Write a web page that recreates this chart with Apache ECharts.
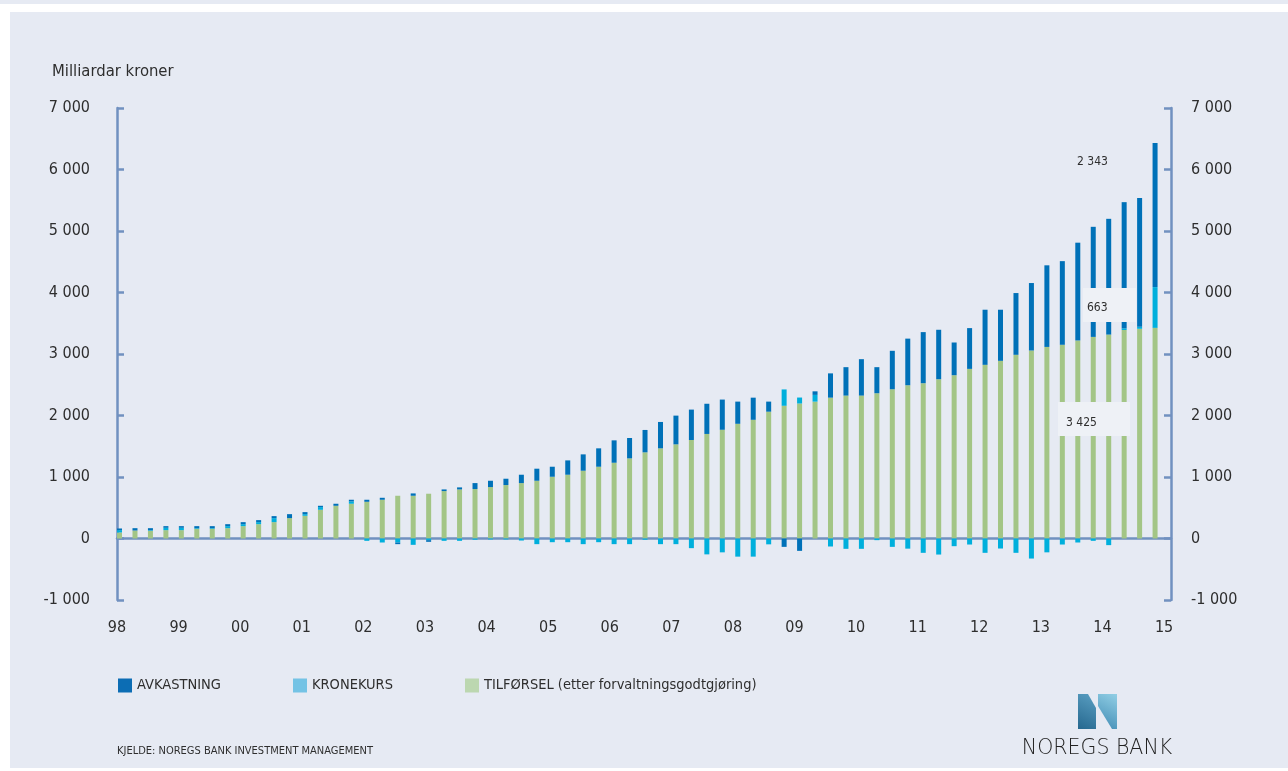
<!DOCTYPE html>
<html>
<head>
<meta charset="utf-8">
<script src="https://cdn.jsdelivr.net/npm/echarts@6/dist/echarts.min.js"></script>
<style>
html,body{margin:0;padding:0;background:#ffffff;}
#chart{width:1288px;height:771px;}
</style>
</head>
<body>
<div id="chart"></div>
<script>
// Quarter categories 1998K1 .. 2014K4
const quarters = [];
for (let y = 1998; y <= 2014; y++) { for (let q = 1; q <= 4; q++) { quarters.push(y + 'K' + q); } }

const yearLabels = ['98','99','00','01','02','03','04','05','06','07','08','09','10','11','12','13','14','15'];

const tilforsel = [98,130,125,136,136,157,157,168,201,233,
  266,331,369,467,532,565,597,630,695,695,
  728,771,798,804,836,869,901,939,1004,1037,
  1102,1167,1232,1303,1401,1466,1531,1602,1700,1768,
  1865,1930,2062,2158,2195,2225,2290,2324,2324,2362,
  2427,2492,2525,2590,2655,2758,2824,2889,2987,3057,
  3115,3150,3220,3278,3316,3390,3410,3425];

const kronekurs = [38,0,10,38,38,11,11,33,32,33,
  65,0,27,43,0,38,-38,-65,-65,-103,
  -27,-38,-38,-20,-15,-15,-33,-92,-60,-60,
  -92,-60,-92,-92,-20,-92,-92,-157,-258,-225,
  -295,-295,-95,266,97,110,-130,-168,-168,-27,
  -136,-165,-233,-261,-125,-98,-233,-163,-233,-326,
  -225,-98,-65,-38,-108,27,33,663];

const avkastning = [27,38,33,27,27,33,33,32,33,33,
  33,65,33,22,33,27,33,32,-27,38,
  -27,27,33,97,103,103,136,196,163,233,
  266,299,364,331,364,429,467,494,491,491,
  361,360,164,-136,-201,58,395,462,592,424,
  625,758,831,804,532,663,896,831,1004,1097,
  1327,1360,1590,1790,1882,2052,2092,2343];

const yTicks = {min: -1000, max: 7000, interval: 1000};
const annotations = ['2 343', '663', '3 425'];

const FONT = '"DejaVu Sans Condensed", "DejaVu Sans", sans-serif';
const TXT = '#2e2e2e';
const AXIS = '#7191c0';
const C_AVK = '#0071b8';
const C_KRO = '#00afdc';
const C_TIL = '#a3c586';

function fmt(v) {
  const s = Math.abs(v).toString().replace(/\B(?=(\d{3})+(?!\d))/g, ' ');
  return (v < 0 ? '-' : '') + s;
}

const chart = echarts.init(document.getElementById('chart'), null, {renderer: 'canvas'});

const yAxisBase = {
  type: 'value', gridIndex: 0,
  min: yTicks.min, max: yTicks.max, interval: yTicks.interval,
  axisLine: {show: true, onZero: false, lineStyle: {color: AXIS, width: 2.5}},
  axisTick: {show: true, inside: true, length: 7, lineStyle: {color: AXIS, width: 2.5}},
  splitLine: {show: false},
  axisLabel: {formatter: fmt, color: TXT, fontFamily: FONT, fontSize: 16}
};

const legendText = {color: TXT, fontFamily: FONT, fontSize: 14.5};

const option = {
  backgroundColor: '#ffffff',
  animation: false,
  grid: [
    {left: 117, right: 117, top: 108, bottom: 171, containLabel: false},
    {left: 111.8, right: 125.2, top: 108, bottom: 171, containLabel: false}
  ],
  xAxis: [
    { // year labels
      type: 'value', gridIndex: 0, position: 'bottom',
      min: 0, max: 17.113, interval: 1,
      axisLine: {show: false, onZero: false},
      axisTick: {show: false},
      splitLine: {show: false},
      axisLabel: {
        color: TXT, fontFamily: FONT, fontSize: 16, margin: 20,
        showMaxLabel: false,
        formatter: v => yearLabels[Math.round(v)] || ''
      }
    },
    { // zero line
      type: 'value', gridIndex: 0, position: 'top',
      min: 0, max: 1,
      axisLine: {show: true, onZero: true, onZeroAxisIndex: 0, lineStyle: {color: AXIS, width: 2.5}},
      axisTick: {show: false},
      axisLabel: {show: false},
      splitLine: {show: false}
    },
    { // bars
      type: 'category', gridIndex: 1, data: quarters, boundaryGap: true, show: false
    }
  ],
  yAxis: [
    Object.assign({}, yAxisBase, {position: 'left', axisLabel: Object.assign({}, yAxisBase.axisLabel, {margin: 27})}),
    Object.assign({}, yAxisBase, {position: 'right', axisLabel: Object.assign({}, yAxisBase.axisLabel, {margin: 20, align: 'left'})}),
    {type: 'value', gridIndex: 1, min: yTicks.min, max: yTicks.max, show: false}
  ],
  legend: [
    {left: 113, top: 673, itemWidth: 14, itemHeight: 14, icon: 'rect',
     textStyle: legendText,
     data: [{name: 'AVKASTNING', itemStyle: {color: '#0c6db4'}}]},
    {left: 288, top: 673, itemWidth: 14, itemHeight: 14, icon: 'rect',
     textStyle: legendText,
     data: [{name: 'KRONEKURS', itemStyle: {color: '#74c3e5'}}]},
    {left: 460, top: 673, itemWidth: 14, itemHeight: 14, icon: 'rect',
     textStyle: legendText,
     data: [{name: 'TILFØRSEL (etter forvaltningsgodtgjøring)', itemStyle: {color: '#bcd7b0'}}]}
  ],
  series: [
    {name: 'TILFØRSEL (etter forvaltningsgodtgjøring)', type: 'bar', stack: 'fond', xAxisIndex: 2, yAxisIndex: 2,
     barWidth: 5, itemStyle: {color: C_TIL}, data: tilforsel},
    {name: 'KRONEKURS', type: 'bar', stack: 'fond', xAxisIndex: 2, yAxisIndex: 2,
     barWidth: 5, itemStyle: {color: C_KRO}, data: kronekurs},
    {name: 'AVKASTNING', type: 'bar', stack: 'fond', xAxisIndex: 2, yAxisIndex: 2,
     barWidth: 5, itemStyle: {color: C_AVK}, data: avkastning}
  ],
  graphic: [
    {type: 'rect', z: -100, silent: true, shape: {x: 0, y: 0, width: 1288, height: 4}, style: {fill: '#e6eaf3'}},
    {type: 'rect', z: -100, silent: true, shape: {x: 10, y: 12, width: 1278, height: 756}, style: {fill: '#e6eaf3'}},
    {type: 'text', x: 52, y: 72, style: {text: 'Milliardar kroner', fill: TXT, font: '16.5px ' + FONT, verticalAlign: 'middle'}},
    {type: 'text', x: 117, y: 751, style: {text: 'KJELDE: NOREGS BANK INVESTMENT MANAGEMENT', fill: TXT, font: '11px ' + FONT, verticalAlign: 'middle'}},
    // annotation boxes
    {type: 'rect', z: 100, shape: {x: 1083, y: 288, width: 53, height: 34}, style: {fill: '#eef1f6'}},
    {type: 'rect', z: 100, shape: {x: 1058, y: 402, width: 72, height: 34}, style: {fill: '#eef1f6'}},
    {type: 'text', z: 101, x: 1077, y: 162, style: {text: annotations[0], fill: TXT, font: '12px ' + FONT, verticalAlign: 'middle'}},
    {type: 'text', z: 101, x: 1087, y: 308, style: {text: annotations[1], fill: TXT, font: '12px ' + FONT, verticalAlign: 'middle'}},
    {type: 'text', z: 101, x: 1066, y: 423, style: {text: annotations[2], fill: TXT, font: '12px ' + FONT, verticalAlign: 'middle'}},
    // Noregs Bank logo
    {type: 'polygon', z: 50, shape: {points: [[1078,694],[1088,694],[1096,708],[1096,729],[1078,729]]},
     style: {fill: new echarts.graphic.LinearGradient(0, 1, 1, 0, [{offset: 0, color: '#26688f'}, {offset: 1, color: '#5a9fc2'}])}},
    {type: 'polygon', z: 50, shape: {points: [[1098,694],[1117,694],[1117,729],[1112,729],[1098,706]]},
     style: {fill: new echarts.graphic.LinearGradient(0, 1, 1, 0, [{offset: 0, color: '#3f8ab3'}, {offset: 1, color: '#92cfe5'}])}},
    {type: 'text', z: 50, x: 1097, y: 749, style: {text: 'NOREGS BANK', fill: '#222222', font: '300 20.5px "DejaVu Sans", sans-serif', align: 'center', verticalAlign: 'middle'}}
  ]
};

chart.setOption(option);
</script>
</body>
</html>
